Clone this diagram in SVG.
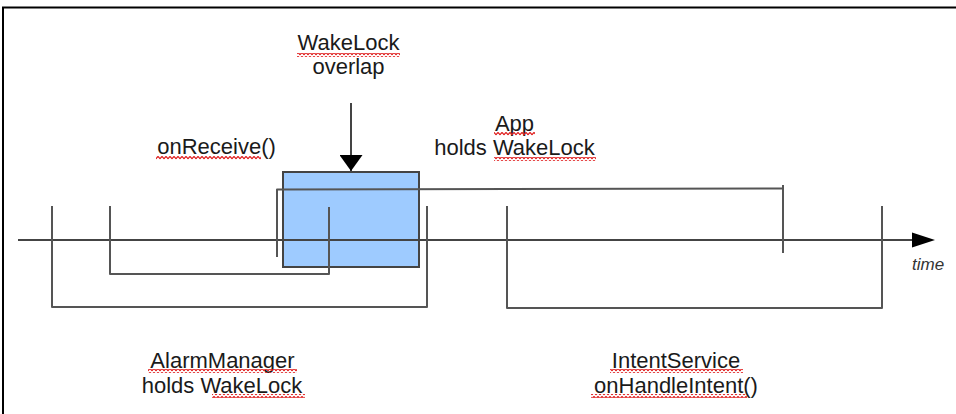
<svg xmlns="http://www.w3.org/2000/svg" width="956" height="414" viewBox="0 0 956 414">
  <style>
    .t { font-family: "Liberation Sans", Arial, sans-serif; font-size: 22px; fill: #1a1a1a; text-anchor: middle; }
    .ti { font-family: "Liberation Sans", Arial, sans-serif; font-size: 17px; font-style: italic; fill: #333; }
    .br { fill: none; stroke: #555; stroke-width: 2; stroke-linejoin: round; }
    .ax { fill: none; stroke: #444; stroke-width: 2; }
  </style>
  <defs>
    <marker id="ah" viewBox="0 0 16 23" refX="16" refY="11.5" markerWidth="16" markerHeight="23" markerUnits="userSpaceOnUse" orient="auto">
      <path d="M0 0 L16 11.5 L0 23 Z" fill="#000"/>
    </marker>
    <pattern id="wave" width="4" height="4" patternUnits="userSpaceOnUse">
      <path d="M0 3 L1 1.5 L2 0.5 L3 1.5 L4 3" fill="none" stroke="#e02020" stroke-width="1.2"/>
    </pattern>
  </defs>
  <rect width="956" height="414" fill="#fff"/>
  <!-- frame -->
  <path d="M3 414 L3 7.5 L956 7.5" fill="none" stroke="#000" stroke-width="2"/>

  <g id="wakelock-overlap">
    <rect x="283" y="172" width="136" height="95" fill="#9ecbff" stroke="#444" stroke-width="2"/>
    <text x="348.5" y="50" class="t">WakeLock</text>
    <text x="348.5" y="74" class="t">overlap</text>
    <rect x="297" y="53" width="103" height="4" fill="url(#wave)"/>
  </g>

  <g id="time-axis">
    <line x1="18" y1="240" x2="914" y2="240" class="ax"/>
    <path d="M912 232.5 L935 240 L912 247.5 Z" fill="#000"/>
    <text x="912" y="270" class="ti">time</text>
  </g>

  <g id="alarm-manager">
    <path d="M52 206 L52 307 L427 307 L427 206" class="br"/>
    <text x="222.5" y="368" class="t">AlarmManager</text>
    <text x="222" y="393" class="t">holds WakeLock</text>
    <rect x="148" y="369" width="149" height="4" fill="url(#wave)"/>
    <rect x="212" y="394" width="93" height="4" fill="url(#wave)"/>
  </g>

  <g id="on-receive">
    <path d="M110 206 L110 274 L329 274 L329 207" class="br"/>
    <text x="216.5" y="154" class="t">onReceive()</text>
    <rect x="156" y="156" width="105" height="4" fill="url(#wave)"/>
  </g>

  <g id="app-wakelock">
    <path d="M277 257 L277 189.5 L783 188.5" class="br"/>
    <line x1="783" y1="185" x2="783" y2="253" class="br"/>
    <text x="514.5" y="131" class="t">App</text>
    <text x="514.5" y="155" class="t">holds WakeLock</text>
    <rect x="494" y="132" width="41" height="4" fill="url(#wave)"/>
    <rect x="494" y="157" width="102" height="4" fill="url(#wave)"/>
  </g>

  <g id="intent-service">
    <path d="M507 206 L507 308 L882 308 L882 206" class="br"/>
    <text x="676" y="368" class="t">IntentService</text>
    <text x="676" y="393" class="t">onHandleIntent()</text>
    <rect x="610" y="369" width="133" height="4" fill="url(#wave)"/>
    <rect x="591" y="394" width="156" height="4" fill="url(#wave)"/>
  </g>

  <g id="connectors">
    <line x1="351" y1="103" x2="351" y2="171" stroke="#444" stroke-width="2" marker-end="url(#ah)"/>
  </g>
</svg>
